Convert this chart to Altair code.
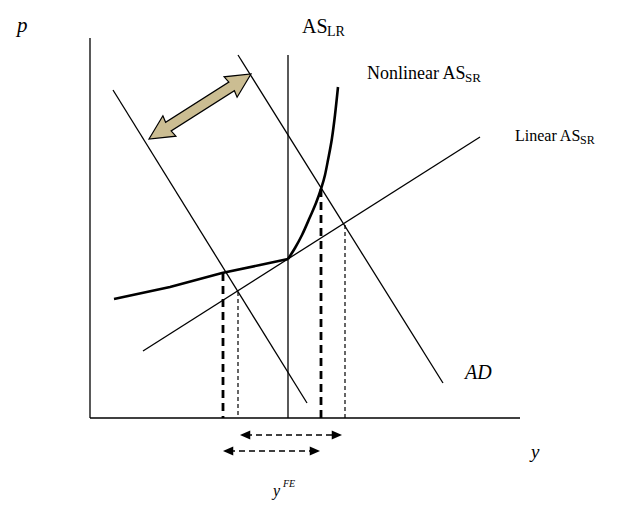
import altair as alt
import pandas as pd
import math

# ---- data (page-pixel coordinates, y downward) ----
axis_p_x = [90, 90]
axis_p_y = [38, 418]
axis_y_x = [90, 520]
axis_y_y = [418, 418]
as_lr_x = [288, 288]
as_lr_y = [55, 418]
linear_sr_x = [143, 480]
linear_sr_y = [351, 137]
ad_left_x = [113, 307]
ad_left_y = [90, 403]
ad_right_x = [238, 443]
ad_right_y = [55, 383]

nonlin_low_x = [114, 170, 222, 260, 288]
nonlin_low_y = [299, 287, 273, 265, 259]
nonlin_high_x = [288, 295, 302, 310, 316, 321, 325, 328, 332, 335, 338]
nonlin_high_y = [259, 248, 235, 217, 203, 189, 175, 160, 138, 115, 87]

thick_dash_x = [223, 321]
thick_dash_top = [273, 189]
thin_dash_x = [238, 345]
thin_dash_top = [292, 225]
dash_bottom = 418

arrow_rows_y = [435, 451]
arrow_left_x = [240, 223]
arrow_right_x = [342, 320]

tan_tip_a = (149, 139)
tan_tip_b = (251, 74)

labels_regular = ["AS", "LR", "Nonlinear AS", "SR", "Linear AS", "SR"]
labels_regular_x = [302, 327, 367, 465, 515, 580]
labels_regular_y = [33, 36, 79, 82, 141, 144]
labels_regular_size = [20, 14, 18, 13, 16, 12]

labels_italic = ["p", "AD", "y", "y", "FE"]
labels_italic_x = [17, 465, 531, 273, 283]
labels_italic_y = [32, 379, 458, 496, 487]
labels_italic_size = [21, 20, 19, 16, 10]

# ---- tables ----
def seg(name, xs, ys):
    return [{"id": name, "order": i, "x": x, "y": y} for i, (x, y) in enumerate(zip(xs, ys))]

thin_rows = (seg("axis_p", axis_p_x, axis_p_y) + seg("axis_y", axis_y_x, axis_y_y)
             + seg("as_lr", as_lr_x, as_lr_y) + seg("linear", linear_sr_x, linear_sr_y)
             + seg("ad_left", ad_left_x, ad_left_y) + seg("ad_right", ad_right_x, ad_right_y))
thin_df = pd.DataFrame(thin_rows)
nl_low_df = pd.DataFrame(seg("nl_low", nonlin_low_x, nonlin_low_y))
nl_high_df = pd.DataFrame(seg("nl_high", nonlin_high_x, nonlin_high_y))

thick_dash_df = pd.DataFrame(sum([seg(f"td{i}", [x, x], [t, dash_bottom])
                                  for i, (x, t) in enumerate(zip(thick_dash_x, thick_dash_top))], []))
thin_dash_df = pd.DataFrame(sum([seg(f"nd{i}", [x, x], [t, dash_bottom])
                                 for i, (x, t) in enumerate(zip(thin_dash_x, thin_dash_top))], []))
arrow_shaft_df = pd.DataFrame(sum([seg(f"as{i}", [a + 6, b - 6], [y, y])
                                   for i, (a, b, y) in enumerate(zip(arrow_left_x, arrow_right_x, arrow_rows_y))], []))
heads = []
for a, b, y in zip(arrow_left_x, arrow_right_x, arrow_rows_y):
    heads.append({"x": a, "y": y, "ang": 180})
    heads.append({"x": b, "y": y, "ang": 0})
heads_df = pd.DataFrame(heads)

dx = tan_tip_b[0] - tan_tip_a[0]
dy = tan_tip_b[1] - tan_tip_a[1]
tan_len = math.hypot(dx, dy)
tan_angle = math.degrees(math.atan2(dy, dx)) % 360
tan_df = pd.DataFrame([{"x": (tan_tip_a[0] + tan_tip_b[0]) / 2,
                        "y": (tan_tip_a[1] + tan_tip_b[1]) / 2,
                        "ang": tan_angle, "sz": tan_len ** 2}])

reg_df = pd.DataFrame({"t": labels_regular, "x": labels_regular_x, "y": labels_regular_y, "s": labels_regular_size})
ita_df = pd.DataFrame({"t": labels_italic, "x": labels_italic_x, "y": labels_italic_y, "s": labels_italic_size})

# ---- encodings ----
X = alt.X("x:Q", scale=alt.Scale(domain=[8, 613], nice=False, zero=False), axis=None)
Y = alt.Y("y:Q", scale=alt.Scale(domain=[8, 505], nice=False, zero=False, reverse=True), axis=None)

def lines(df, **kw):
    return alt.Chart(df).mark_line(color="black", **kw).encode(
        x=X, y=Y, detail="id:N", order="order:Q")

thin = lines(thin_df, strokeWidth=1.3)
nl_low = lines(nl_low_df, strokeWidth=2.6)
nl_high = lines(nl_high_df, strokeWidth=2.6, interpolate="monotone")
thick_dash = lines(thick_dash_df, strokeWidth=2.8, strokeDash=[8, 5])
thin_dash = lines(thin_dash_df, strokeWidth=1.2, strokeDash=[4, 3])
arrow_shaft = lines(arrow_shaft_df, strokeWidth=1.5, strokeDash=[6, 4])

head_shape = "M 0 0 L -1 -0.45 L -1 0.45 Z"
arrow_heads = alt.Chart(heads_df).mark_point(
    shape=head_shape, filled=True, color="black", size=420, opacity=1
).encode(x=X, y=Y, angle=alt.Angle("ang:Q", scale=None))

tan_shape = ("M -1 0 L -0.6 -0.2 L -0.62 -0.085 L 0.62 -0.085 L 0.6 -0.2 L 1 0 "
             "L 0.6 0.2 L 0.62 0.085 L -0.62 0.085 L -0.6 0.2 Z")
tan_arrow = alt.Chart(tan_df).mark_point(
    shape=tan_shape, filled=True, fill="#cbbd92", stroke="black", strokeWidth=1.2, opacity=1,
    fillOpacity=1, strokeOpacity=1
).encode(x=X, y=Y, angle=alt.Angle("ang:Q", scale=None), size=alt.Size("sz:Q", scale=None))

reg_text = alt.Chart(reg_df).mark_text(
    align="left", baseline="alphabetic", font="Liberation Serif", color="black"
).encode(x=X, y=Y, text="t:N", size=alt.Size("s:Q", scale=None))
ita_text = alt.Chart(ita_df).mark_text(
    align="left", baseline="alphabetic", font="Liberation Serif", fontStyle="italic", color="black"
).encode(x=X, y=Y, text="t:N", size=alt.Size("s:Q", scale=None))

chart = alt.layer(
    thin, thin_dash, thick_dash, nl_low, nl_high, arrow_shaft, arrow_heads, tan_arrow, reg_text, ita_text
).properties(
    width=605, height=497, padding=0, autosize=alt.AutoSizeParams(type="none")
).configure_view(stroke=None, fill="white")

chart.save("out.html", embed_options={"renderer": "svg", "actions": False})
